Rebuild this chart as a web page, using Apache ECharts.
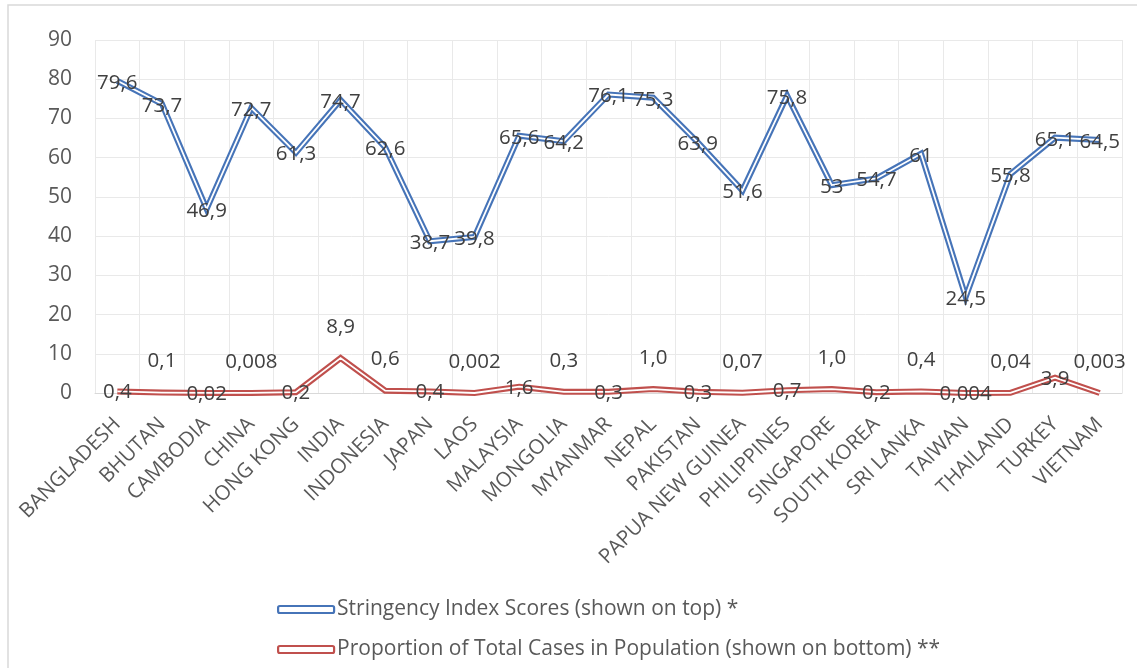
<!DOCTYPE html>
<html>
<head>
<meta charset="utf-8">
<title>Stringency Index and Proportion of Total Cases</title>
<script src="https://cdn.jsdelivr.net/npm/echarts@6/dist/echarts.min.js"></script>
<style>
  html, body { margin: 0; padding: 0; background: #ffffff; }
  #chart { width: 1137px; height: 668px; }
</style>
</head>
<body>
<div id="chart"></div>
<script>
// Countries along the x axis
const countries = [
  'BANGLADESH', 'BHUTAN', 'CAMBODIA', 'CHINA', 'HONG KONG', 'INDIA', 'INDONESIA',
  'JAPAN', 'LAOS', 'MALAYSIA', 'MONGOLIA', 'MYANMAR', 'NEPAL', 'PAKISTAN',
  'PAPUA NEW GUINEA', 'PHILIPPINES', 'SINGAPORE', 'SOUTH KOREA', 'SRI LANKA',
  'TAIWAN', 'THAILAND', 'TURKEY', 'VIETNAM'
];

// Stringency Index Scores
const stringency = [
  79.6, 73.7, 46.9, 72.7, 61.3, 74.7, 62.6, 38.7, 39.8, 65.6, 64.2, 76.1,
  75.3, 63.9, 51.6, 75.8, 53, 54.7, 61, 24.5, 55.8, 65.1, 64.5
];

// Proportion of total cases in population (%)
const proportion = [
  0.4, 0.1, 0.02, 0.008, 0.2, 8.9, 0.6, 0.4, 0.002, 1.6, 0.3, 0.3,
  1.0, 0.3, 0.07, 0.7, 1.0, 0.2, 0.4, 0.004, 0.04, 3.9, 0.003
];
// Decimal places printed for each proportion value
const proportionDecimals = [
  1, 1, 2, 3, 1, 1, 1, 1, 3, 1, 1, 1,
  1, 1, 2, 1, 1, 1, 1, 3, 2, 1, 3
];

// Y axis ticks
const yTicks = { min: 0, max: 90, step: 10 };

const seriesNames = [
  'Stringency Index Scores (shown on top) *',
  'Proportion of Total Cases in Population (shown on bottom) **'
];

const BLUE = '#4674b8';
const RED = '#c0504d';
const LABEL_COLOR = '#404040';
const AXIS_COLOR = '#595959';
const FONT = '"Open Sans", "Noto Sans", sans-serif';

// Proportion labels that sit above the line instead of on it
const raisedLabels = new Set([1, 3, 5, 6, 8, 10, 12, 14, 16, 18, 20, 22]);

const comma = s => s.replace('.', ',');

const stringencyData = stringency.map(v => ({ value: v }));
const proportionData = proportion.map((v, i) => ({
  value: v,
  label: {
    formatter: comma(v.toFixed(proportionDecimals[i])),
    offset: raisedLabels.has(i) ? [0, -31] : [0, 1]
  }
}));

const baseLabel = {
  show: true,
  position: 'inside',
  color: LABEL_COLOR,
  fontSize: 20.5,
  fontFamily: FONT
};

// Each series is drawn as a thick coloured stroke with a thin white core
function outerLine(name, data, color) {
  return {
    name: name,
    type: 'line',
    data: data,
    symbol: 'none',
    silent: true,
    z: 2,
    lineStyle: { color: color, width: 6, join: 'miter' },
    itemStyle: { color: color }
  };
}
function innerLine(data, label) {
  return {
    name: '_core',
    type: 'line',
    data: data,
    symbol: 'circle',
    symbolSize: 1,
    silent: true,
    z: 3,
    itemStyle: { color: 'rgba(0,0,0,0)' },
    lineStyle: { color: '#ffffff', width: 1.8, join: 'miter' },
    label: label
  };
}

const chart = echarts.init(document.getElementById('chart'), null, { renderer: 'canvas' });

chart.setOption({
  animation: false,
  backgroundColor: '#ffffff',
  textStyle: { fontFamily: FONT },
  graphic: [{
    type: 'rect',
    shape: { x: 8, y: 5, width: 1140, height: 680 },
    style: { fill: 'none', stroke: '#d9d9d9', lineWidth: 1.5 },
    silent: true,
    z: -10
  }],
  grid: { left: 95, right: 15, top: 40, bottom: 275, containLabel: false },
  legend: {
    orient: 'vertical',
    left: 277,
    top: 597,
    padding: 0,
    itemWidth: 56,
    itemHeight: 7,
    itemGap: 15,
    icon: 'roundRect',
    textStyle: { color: AXIS_COLOR, fontSize: 21, lineHeight: 25, fontFamily: FONT, padding: [0, 0, 0, -2] },
    data: [
      { name: seriesNames[0], itemStyle: { color: '#ffffff', borderColor: BLUE, borderWidth: 2.2 } },
      { name: seriesNames[1], itemStyle: { color: '#ffffff', borderColor: RED, borderWidth: 2.2 } }
    ]
  },
  xAxis: {
    type: 'category',
    data: countries,
    boundaryGap: true,
    axisLine: { lineStyle: { color: '#d9d9d9', width: 1 } },
    axisTick: { show: false },
    splitLine: { show: true, lineStyle: { color: '#e9e9e9', width: 1 } },
    axisLabel: {
      interval: 0,
      rotate: 45,
      margin: 28,
      color: AXIS_COLOR,
      fontSize: 20.5,
      fontFamily: FONT
    }
  },
  yAxis: {
    type: 'value',
    min: yTicks.min,
    max: yTicks.max,
    interval: yTicks.step,
    axisLine: { show: false },
    axisTick: { show: false },
    splitLine: { lineStyle: { color: '#e9e9e9', width: 1 } },
    axisLabel: { color: AXIS_COLOR, fontSize: 21, margin: 23, fontFamily: FONT }
  },
  series: [
    outerLine(seriesNames[0], stringencyData, BLUE),
    innerLine(stringencyData, Object.assign({}, baseLabel, {
      formatter: p => comma(String(p.value)),
      offset: [0, 2]
    })),
    outerLine(seriesNames[1], proportionData.map(d => d.value), RED),
    innerLine(proportionData, Object.assign({}, baseLabel))
  ]
});
</script>
</body>
</html>
